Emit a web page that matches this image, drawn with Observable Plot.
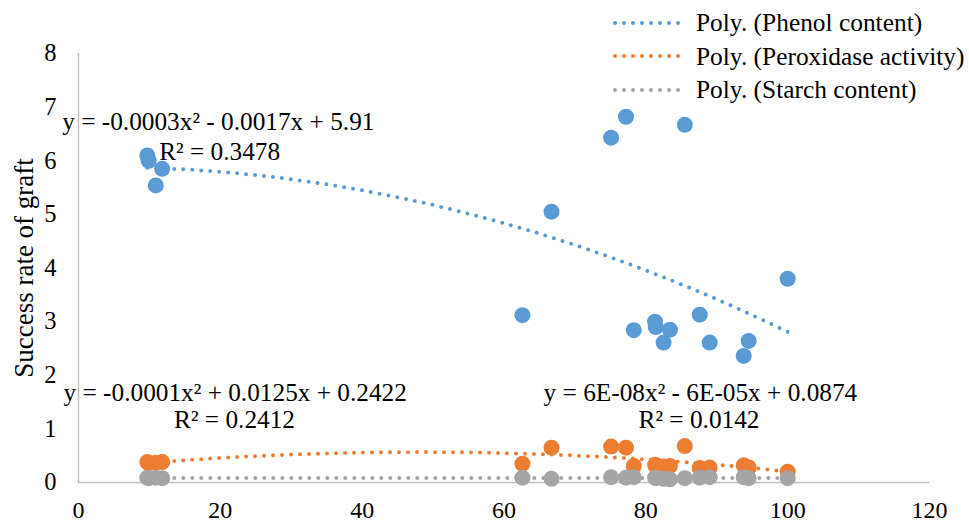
<!DOCTYPE html>
<html>
<head>
<meta charset="utf-8">
<script src="https://cdn.jsdelivr.net/npm/d3@7"></script>
<script src="https://cdn.jsdelivr.net/npm/@observablehq/plot@0.6"></script>
<style>
  html, body { margin: 0; padding: 0; background: #fff; }
  #wrap { position: relative; width: 969px; height: 523px; font-family: "Liberation Serif", "Times New Roman", serif; }
  #wrap svg text { font-family: "Liberation Serif", "Times New Roman", serif !important; font-variant: normal !important; }
  #legend { position: absolute; left: 612px; top: 6px; font-size: 25.4px; color: #000; font-family: "Liberation Serif", serif; }
  .row { display: flex; align-items: center; height: 33.5px; }
  .row svg { margin-right: 8px; }
</style>
</head>
<body>
<div id="wrap"><div id="legend"></div></div>
<script>
// ---- data ----
const sampleX    = [9.7, 9.9, 10.9, 11.8, 62.6, 66.7, 75.1, 77.2, 78.3, 81.3, 81.4, 82.5, 83.4, 85.5, 87.6, 89.0, 93.8, 94.5, 100];
const phenol     = [6.10, 6.00, 5.54, 5.85, 3.12, 5.05, 6.43, 6.82, 2.84, 3.00, 2.90, 2.61, 2.85, 6.67, 3.13, 2.61, 2.36, 2.64, 3.80];
const peroxidase = [0.38, 0.36, 0.37, 0.38, 0.35, 0.65, 0.67, 0.65, 0.31, 0.33, 0.31, 0.30, 0.31, 0.68, 0.27, 0.28, 0.32, 0.28, 0.20];
const starch     = [0.09, 0.08, 0.09, 0.08, 0.09, 0.07, 0.10, 0.09, 0.10, 0.09, 0.08, 0.07, 0.06, 0.08, 0.09, 0.10, 0.10, 0.08, 0.08];

const seriesNames  = ["Phenol content", "Peroxidase activity", "Starch content"];
const seriesColors = ["#5B9BD5", "#ED7D31", "#A5A5A5"];
const equations    = ["y = -0.0003x² - 0.0017x + 5.91", "y = -0.0001x² + 0.0125x + 0.2422", "y = 6E-08x² - 6E-05x + 0.0874"];
const rSquared     = ["R² = 0.3478", "R² = 0.2412", "R² = 0.0142"];
const xTicks = [0, 20, 40, 60, 80, 100, 120];
const yTicks = [0, 1, 2, 3, 4, 5, 6, 7, 8];
const yTitle = "Success rate of graft";

// ---- build tables ----
const seriesVals = [phenol, peroxidase, starch];
const points = [];
seriesVals.forEach((vals, s) => vals.forEach((v, i) => points.push({x: sampleX[i], y: v, s: seriesNames[s]})));

// least-squares 2nd order polynomial (like the spreadsheet trendline)
function polyfit2(xs, ys) {
  const S = k => d3.sum(xs, x => Math.pow(x, k));
  const T = k => d3.sum(xs, (x, i) => Math.pow(x, k) * ys[i]);
  const A = [[S(0), S(1), S(2), T(0)], [S(1), S(2), S(3), T(1)], [S(2), S(3), S(4), T(2)]];
  for (let c = 0; c < 3; c++) {
    let p = c; for (let r = c + 1; r < 3; r++) if (Math.abs(A[r][c]) > Math.abs(A[p][c])) p = r;
    [A[c], A[p]] = [A[p], A[c]];
    for (let r = 0; r < 3; r++) if (r !== c) { const f = A[r][c] / A[c][c]; for (let k = c; k < 4; k++) A[r][k] -= f * A[c][k]; }
  }
  return [A[0][3] / A[0][0], A[1][3] / A[1][1], A[2][3] / A[2][2]];
}
const trend = [];
const x0 = d3.min(sampleX), x1 = d3.max(sampleX);
seriesVals.forEach((vals, s) => {
  const [a, b, c] = polyfit2(sampleX, vals);
  for (let k = 0; k <= 200; k++) { const x = x0 + (x1 - x0) * k / 200; trend.push({x, y: a + b * x + c * x * x, s: seriesNames[s]}); }
});

// label layout (data coordinates)
const labelX  = [-2.3, 22.1, 87.7];
const labelY1 = [6.72, 1.68, 1.68];
const labelY2 = [6.16, 1.16, 1.16];
const labelX2 = [19.9, 22.0, 87.5];
const labels = [];
equations.forEach((e, i) => {
  labels.push({x: labelX[i], y: labelY1[i], t: e, a: i === 0 ? "start" : "middle"});
  labels.push({x: labelX2[i], y: labelY2[i], t: rSquared[i], a: "middle"});
});

const serif = "'Liberation Serif', 'Times New Roman', serif";
const color = {domain: seriesNames, range: seriesColors};
const chart = Plot.plot({
  width: 969, height: 523,
  marginLeft: 78, marginRight: 40, marginTop: 53, marginBottom: 41,
  style: {fontFamily: serif, fontSize: "24px", color: "#000", background: "transparent", overflow: "visible"},
  x: {domain: [0, 120], ticks: xTicks, tickSize: 0, tickPadding: 18, label: null},
  y: {domain: [0, 8], ticks: yTicks, tickSize: 0, tickPadding: 22, label: null},
  color,
  marks: [
    Plot.ruleX([0], {stroke: "#BFBFBF", strokeWidth: 1.5}),
    Plot.ruleY([0], {stroke: "#BFBFBF", strokeWidth: 1.5}),
    Plot.line(trend, {x: "x", y: "y", z: "s", stroke: "s", strokeWidth: 4, strokeDasharray: "0 9", strokeLinecap: "round", curve: "linear"}),
    Plot.dot(points, {x: "x", y: "y", fill: "s", r: 8, stroke: "none"}),
    Plot.text(labels.filter(d => d.a === "start"), {x: "x", y: "y", text: "t", textAnchor: "start", fontSize: 25.3, fontFamily: serif, fill: "#000"}),
    Plot.text(labels.filter(d => d.a === "middle"), {x: "x", y: "y", text: "t", textAnchor: "middle", fontSize: 25.3, fontFamily: serif, fill: "#000"}),
    Plot.axisX({ticks: xTicks, tickSize: 0, tickPadding: 18, fontSize: 24, fontFamily: serif, label: null}),
    Plot.axisY({ticks: yTicks, tickSize: 0, tickPadding: 22, fontSize: 24.5, fontFamily: serif, label: null}),
    Plot.text([yTitle], {frameAnchor: "left", textAnchor: "middle", dx: -54, rotate: -90, fontSize: 27, fontFamily: serif, fill: "#000"})
  ]
});
document.getElementById("wrap").prepend(chart);

// legend
const leg = d3.select("#legend");
seriesNames.forEach((n, i) => {
  const row = leg.append("div").attr("class", "row");
  const sv = row.append("svg").attr("width", 76).attr("height", 10);
  sv.append("line").attr("x1", 3).attr("x2", 74).attr("y1", 5).attr("y2", 5)
    .attr("stroke", seriesColors[i]).attr("stroke-width", 4).attr("stroke-dasharray", "0 9").attr("stroke-linecap", "round");
  row.append("span").text(`Poly. (${n})`);
});
</script>
</body>
</html>
